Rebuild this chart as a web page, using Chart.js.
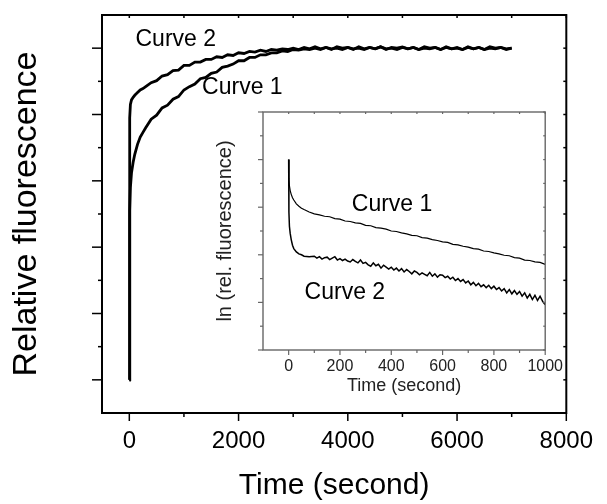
<!DOCTYPE html>
<html>
<head>
<meta charset="utf-8">
<script src="https://cdn.jsdelivr.net/npm/chart.js@4.4.1/dist/chart.umd.min.js"></script>
<style>
  body { margin: 0; background: #fff; }
  #wrap { position: relative; width: 607px; height: 504px; }
  #main { position: absolute; left: 0; top: 0; }
  #inset { position: absolute; left: 200px; top: 100px; }
</style>
</head>
<body>
<div id="wrap">
  <canvas id="main" width="607" height="504"></canvas>
  <canvas id="inset" width="370" height="310"></canvas>
</div>
<script>
// main panel: relative fluorescence vs time
const mainTime = [0, 4, 10, 20, 40, 70, 100, 150, 200, 250, 300,
  400, 500, 600, 700, 800, 900, 1000, 1100, 1200, 1300, 1400, 1500, 1600, 1700, 1800, 1900,
  2000, 2100, 2200, 2300, 2400, 2500, 2600, 2700, 2800, 2900,
  3000, 3100, 3200, 3300, 3400, 3500, 3600, 3700, 3800, 3900,
  4000, 4100, 4200, 4300, 4400, 4500, 4600, 4700, 4800, 4900,
  5000, 5100, 5200, 5300, 5400, 5500, 5600, 5700, 5800, 5900,
  6000, 6100, 6200, 6300, 6400, 6500, 6600, 6700, 6800, 6900,
  7000];
const curve1Main = [0, 1.9, 2.55, 2.9, 3.12, 3.28, 3.4, 3.55, 3.66, 3.73, 3.8,
  3.93, 3.99, 4.10, 4.14, 4.23, 4.27, 4.37, 4.42, 4.46, 4.54, 4.56, 4.62, 4.64, 4.71, 4.73, 4.76,
  4.81, 4.81, 4.86, 4.86, 4.90, 4.90, 4.93, 4.93, 4.96, 4.95,
  4.98, 4.97, 4.99, 4.98, 5.0, 4.98, 5.01, 4.99, 5.0, 4.98,
  5.01, 4.99, 5.0, 4.98, 5.01, 4.99, 5.02, 4.99, 5.0, 4.98,
  5.01, 4.99, 5.01, 4.98, 5.0, 4.99, 5.01, 4.98, 5.01, 4.99,
  5.0, 4.98, 5.01, 4.99, 5.01, 4.98, 5.0, 4.99, 5.01, 4.98,
  5.0];
const curve2Main = [0, 3.3, 3.95, 4.15, 4.22, 4.26, 4.29, 4.33, 4.37, 4.39, 4.42,
  4.48, 4.51, 4.58, 4.60, 4.66, 4.67, 4.74, 4.74, 4.79, 4.79, 4.83, 4.83, 4.87, 4.86, 4.90, 4.89,
  4.93, 4.92, 4.95, 4.94, 4.97, 4.95, 4.98, 4.97, 4.99, 4.98,
  5.0, 4.98, 5.01, 4.99, 5.02, 4.99, 5.01, 4.98, 5.02, 5.0,
  5.01, 4.98, 5.02, 4.99, 5.01, 4.99, 5.02, 4.98, 5.01, 5.0,
  5.02, 4.99, 5.01, 4.98, 5.02, 5.0, 5.01, 4.98, 5.02, 4.99,
  5.01, 4.98, 5.02, 4.99, 5.01, 4.98, 5.02, 5.0, 5.01, 4.99,
  5.0];
const mainXTicks = [0, 2000, 4000, 6000, 8000];
const mainXLabels = ['0', '2000', '4000', '6000', '8000'];
const mainXMinor = [1000, 3000, 5000, 7000];
const mainYTicks = [0, 1, 2, 3, 4, 5];
const mainYMinor = [0.5, 1.5, 2.5, 3.5, 4.5];
const mainLabelText = ['Curve 2', 'Curve 1'];
const mainLabelX = [850, 2070];
const mainLabelY = [5.13, 4.4];

// inset: ln(rel. fluorescence) vs time
const insetTime1 = [0, 1, 3, 6, 10, 15, 20, 30, 40, 50, 60, 80,
  100, 120, 140, 160, 180, 200, 220, 240, 260, 280,
  300, 320, 340, 360, 380, 400, 420, 440, 460, 480,
  500, 520, 540, 560, 580, 600, 620, 640, 660, 680,
  700, 720, 740, 760, 780, 800, 820, 840, 860, 880,
  900, 920, 940, 960, 980, 1000];
const curve1Inset = [4.0, 3.6, 3.45, 3.35, 3.27, 3.2, 3.15, 3.07, 3.02, 2.98, 2.95, 2.9,
  2.86, 2.84, 2.81, 2.80, 2.76, 2.75, 2.71, 2.70, 2.67, 2.66,
  2.62, 2.61, 2.57, 2.56, 2.54, 2.50, 2.49, 2.46, 2.44, 2.41,
  2.40, 2.36, 2.35, 2.32, 2.30, 2.27, 2.26, 2.22, 2.21, 2.18,
  2.16, 2.13, 2.12, 2.08, 2.07, 2.04, 2.02, 1.99, 1.98, 1.94,
  1.93, 1.89, 1.88, 1.85, 1.84, 1.80];
const insetTime2 = [0, 1, 3, 6, 10, 15, 20, 30, 40, 50, 60, 80,
  100, 110, 120, 130, 140, 150, 160, 170, 180, 190,
  200, 210, 220, 230, 240, 250, 260, 270, 280, 290,
  300, 310, 320, 330, 340, 350, 360, 370, 380, 390,
  400, 410, 420, 430, 440, 450, 460, 470, 480, 490,
  500, 510, 520, 530, 540, 550, 560, 570, 580, 590,
  600, 610, 620, 630, 640, 650, 660, 670, 680, 690,
  700, 710, 720, 730, 740, 750, 760, 770, 780, 790,
  800, 810, 820, 830, 840, 850, 860, 870, 880, 890,
  900, 910, 920, 930, 940, 950, 960, 970, 980, 990,
  1000];
const curve2Inset = [4.0, 2.9, 2.6, 2.45, 2.32, 2.2, 2.13, 2.06, 2.02, 2.0, 1.97, 1.96,
  1.97, 1.93, 1.96, 1.91, 1.94, 1.95, 1.90, 1.93, 1.96, 1.89,
  1.92, 1.88, 1.91, 1.87, 1.85, 1.90, 1.86, 1.83, 1.89, 1.82,
  1.84, 1.79, 1.76, 1.83, 1.77, 1.80, 1.72, 1.78, 1.74, 1.70,
  1.74, 1.68, 1.72, 1.66, 1.71, 1.64, 1.69, 1.65, 1.60, 1.66,
  1.63, 1.58, 1.62, 1.59, 1.56, 1.63, 1.55, 1.60, 1.53, 1.58,
  1.57, 1.52, 1.55, 1.49, 1.53, 1.46, 1.50, 1.44, 1.48, 1.41,
  1.45, 1.37, 1.42, 1.35, 1.40, 1.33, 1.37, 1.31, 1.36, 1.29,
  1.34, 1.27, 1.31, 1.24, 1.29, 1.20, 1.27, 1.18, 1.25, 1.17,
  1.23, 1.13, 1.20, 1.09, 1.17, 1.06, 1.15, 1.04, 1.13, 1.02,
  0.95];
const insetXTicks = [0, 200, 400, 600, 800, 1000];
const insetXLabels = ['0', '200', '400', '600', '800', '1000'];
const insetXMinor = [100, 300, 500, 700, 900];
const insetYTicks = [0, 1, 2, 3, 4, 5];
const insetYMinor = [0.5, 1.5, 2.5, 3.5, 4.5];
const insetLabelText = ['Curve 1', 'Curve 2'];
const insetLabelX = [403, 219];
const insetLabelY = [3.05, 1.2];

const FONT = "'Liberation Sans', Arial, sans-serif";

// frame + major/minor tick marks, placed through the chart's own scales
const frameTicks = {
  id: 'frameTicks',
  afterDraw(chart, args, o) {
    const { ctx, chartArea: a, scales: { x, y } } = chart;
    const seg = (x1, y1, x2, y2) => { ctx.beginPath(); ctx.moveTo(x1, y1); ctx.lineTo(x2, y2); ctx.stroke(); };
    ctx.save();
    ctx.strokeStyle = o.color;
    ctx.lineWidth = o.tickWidth;
    const xs = [[o.xMajor, o.major], [o.xMinor, o.minor]];
    xs.forEach(([vals, len]) => vals.forEach(v => {
      const p = x.getPixelForValue(v);
      seg(p, a.bottom, p, a.bottom + len);
      seg(p, a.top, p, a.top + o.inner);
    }));
    const ys = [[o.yMajor, o.yMajorLen || o.major], [o.yMinor, o.minor]];
    ys.forEach(([vals, len]) => vals.forEach(v => {
      const p = y.getPixelForValue(v);
      seg(a.left, p, a.left - len, p);
      seg(a.right, p, a.right - o.inner, p);
    }));
    ctx.lineWidth = o.frameWidth;
    ctx.strokeRect(a.left, a.top, a.right - a.left, a.bottom - a.top);
    ctx.restore();
  }
};

const curveLabels = {
  id: 'curveLabels',
  afterDatasetsDraw(chart, args, o) {
    const { ctx, scales: { x, y } } = chart;
    ctx.save();
    ctx.font = o.size + 'px ' + FONT;
    ctx.fillStyle = '#000';
    ctx.textAlign = 'center';
    ctx.textBaseline = 'middle';
    o.text.forEach((t, i) => ctx.fillText(t, x.getPixelForValue(o.xs[i]), y.getPixelForValue(o.ys[i])));
    ctx.restore();
  }
};

const toPoints = (xs, ys) => xs.map((t, i) => ({ x: t, y: ys[i] }));

new Chart(document.getElementById('main'), {
  type: 'line',
  data: {
    datasets: [
      { label: 'Curve 1', data: toPoints(mainTime, curve1Main), borderColor: '#000', borderWidth: 2.8, pointRadius: 0, tension: 0 },
      { label: 'Curve 2', data: toPoints(mainTime, curve2Main), borderColor: '#000', borderWidth: 2.8, pointRadius: 0, tension: 0 }
    ]
  },
  options: {
    responsive: false,
    animation: false,
    layout: { padding: { top: 15, right: 34, left: 0, bottom: 0 } },
    plugins: {
      legend: { display: false },
      tooltip: { enabled: false },
      frameTicks: { color: '#000', tickWidth: 1.5, frameWidth: 2, major: 8, yMajorLen: 10, minor: 4, inner: 3,
        xMajor: mainXTicks, xMinor: mainXMinor, yMajor: mainYTicks, yMinor: mainYMinor },
      curveLabels: { size: 23, text: mainLabelText, xs: mainLabelX, ys: mainLabelY }
    },
    scales: {
      x: {
        type: 'linear', min: -500, max: 8000,
        afterBuildTicks: s => { s.ticks = mainXTicks.map(v => ({ value: v })); },
        afterFit: s => { s.height = 91; },
        ticks: { color: '#000', font: { family: FONT, size: 24 }, padding: 14, maxRotation: 0, autoSkip: false,
          callback: (v, i) => mainXLabels[i] },
        grid: { display: false, drawTicks: false },
        border: { display: false },
        title: { display: true, text: 'Time (second)', color: '#000', font: { family: FONT, size: 30 }, padding: { top: 0, bottom: 0 } }
      },
      y: {
        type: 'linear', min: -0.5, max: 5.5,
        afterFit: s => { s.width = 102; },
        ticks: { display: false },
        grid: { display: false, drawTicks: false },
        border: { display: false },
        title: { display: true, text: 'Relative fluorescence', color: '#000', font: { family: FONT, size: 34 }, padding: { top: 6, bottom: 0 } }
      }
    }
  },
  plugins: [frameTicks, curveLabels]
});

new Chart(document.getElementById('inset'), {
  type: 'line',
  data: {
    datasets: [
      { label: 'Curve 1', data: toPoints(insetTime1, curve1Inset), borderColor: '#000', borderWidth: 1.2, pointRadius: 0, tension: 0 },
      { label: 'Curve 2', data: toPoints(insetTime2, curve2Inset), borderColor: '#000', borderWidth: 1.5, pointRadius: 0, tension: 0 }
    ]
  },
  options: {
    responsive: false,
    animation: false,
    layout: { padding: { top: 12, right: 24, left: 0, bottom: 0 } },
    plugins: {
      legend: { display: false },
      tooltip: { enabled: false },
      frameTicks: { color: '#666', tickWidth: 1.2, frameWidth: 1.4, major: 5, minor: 3, inner: 2,
        xMajor: insetXTicks, xMinor: insetXMinor, yMajor: insetYTicks, yMinor: insetYMinor },
      curveLabels: { size: 23, text: insetLabelText, xs: insetLabelX, ys: insetLabelY }
    },
    scales: {
      x: {
        type: 'linear', min: -100, max: 1000,
        afterBuildTicks: s => { s.ticks = insetXTicks.map(v => ({ value: v })); },
        afterFit: s => { s.height = 60; },
        ticks: { color: '#222', font: { family: FONT, size: 16 }, padding: 7, maxRotation: 0, autoSkip: false,
          callback: (v, i) => insetXLabels[i] },
        grid: { display: false, drawTicks: false },
        border: { display: false },
        title: { display: true, text: 'Time (second)', color: '#222', font: { family: FONT, size: 18 }, padding: { top: 0, bottom: 13 } }
      },
      y: {
        type: 'linear', min: 0, max: 5,
        afterFit: s => { s.width = 63; },
        ticks: { display: false },
        grid: { display: false, drawTicks: false },
        border: { display: false },
        title: { display: true, text: 'ln (rel. fluorescence)', color: '#222', font: { family: FONT, size: 20 }, padding: { top: 13, bottom: 0 } }
      }
    }
  },
  plugins: [frameTicks, curveLabels]
});
</script>
</body>
</html>
